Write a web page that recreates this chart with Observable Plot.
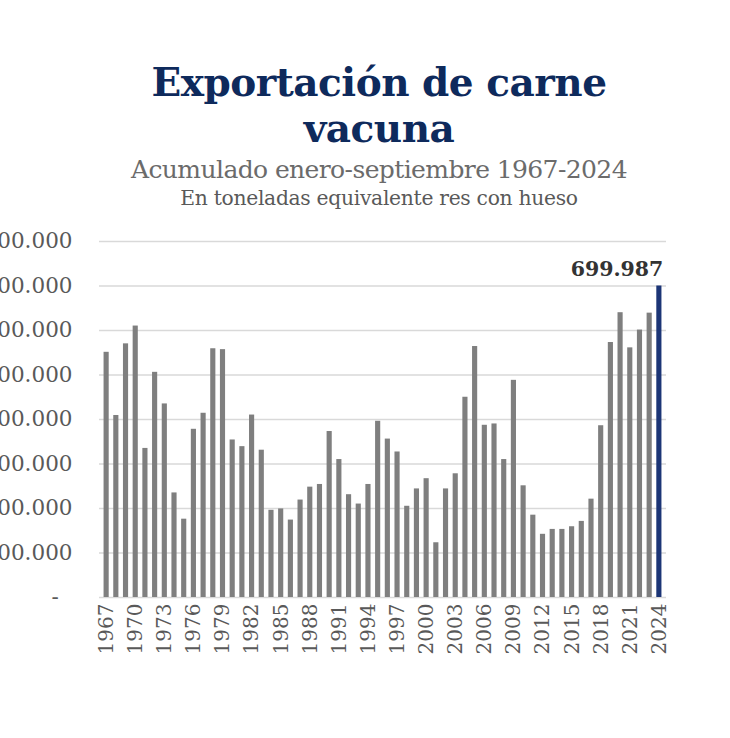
<!DOCTYPE html>
<html>
<head>
<meta charset="utf-8">
<script src="https://cdn.jsdelivr.net/npm/d3@7"></script>
<script src="https://cdn.jsdelivr.net/npm/@observablehq/plot@0.6"></script>
<style>
  html, body { margin: 0; padding: 0; background: #fff; }
  body { width: 730px; height: 738px; overflow: hidden; position: relative; }
  #head { position: absolute; left: 14px; top: 0; width: 730px; text-align: center; }
  #title { position: absolute; left: 0; width: 730px; top: 59px; font-family: "DejaVu Serif", serif; font-weight: bold; font-size: 39px; line-height: 46px; color: #0e2a5c; letter-spacing: -0.5px; }
  #sub1 { position: absolute; left: 0; width: 730px; top: 155px; font-family: "DejaVu Serif", serif; font-size: 25px; line-height: 30px; color: #6b6b6b; letter-spacing: -0.6px; }
  #sub2 { position: absolute; left: 0; width: 730px; top: 186px; font-family: "DejaVu Serif", serif; font-size: 20.3px; line-height: 24px; color: #595959; letter-spacing: -0.3px; }
  #chart { position: absolute; left: 0; top: 225px; }
</style>
</head>
<body>
<div id="head">
  <div id="title">Exportación de carne<br>vacuna</div>
  <div id="sub1">Acumulado enero-septiembre 1967-2024</div>
  <div id="sub2">En toneladas equivalente res con hueso</div>
</div>
<div id="chart"></div>
<script>
const years = d3.range(1967, 2025);
const tons = [
  551000, 409000, 570000, 610000, 335000, 506000, 435000, 235000, 176000, 378000,
  414000, 559000, 557000, 354000, 339000, 410000, 331000, 196000, 199000, 174000,
  219000, 248000, 254000, 373000, 310000, 231000, 210000, 254000, 396000, 356000,
  327000, 205000, 244000, 267000, 123000, 244000, 278000, 450000, 564000, 387000,
  390000, 310000, 488000, 251000, 185000, 142000, 153000, 153000, 159000, 171000,
  221000, 386000, 573000, 640000, 561000, 601000, 639000, 699987
];
const yTicks = [0, 100000, 200000, 300000, 400000, 500000, 600000, 700000, 800000];
const xTickYears = years.filter((y, i) => i % 3 === 0);
const highlightYear = 2024;
const highlightLabel = "699.987";

const data = years.map((y, i) => ({year: y, value: tons[i]}));
const fmt = d => d === 0 ? "-\u2007" : d3.format(",")(d).replace(/,/g, ".");

const chart = Plot.plot({
  width: 730,
  height: 442,
  marginLeft: 99,
  marginRight: 64,
  marginTop: 16,
  marginBottom: 70,
  style: {fontFamily: "DejaVu Serif, serif", overflow: "visible"},
  x: {type: "band", domain: years, padding: 0.47, label: null},
  y: {domain: [0, 800000], label: null},
  marks: [
    Plot.gridY(yTicks, {stroke: "#d9d9d9", strokeOpacity: 1, strokeWidth: 1.3}),
    Plot.barY(data, {x: "year", y: "value", fill: d => d.year === highlightYear ? "#1c3576" : "#7f7f7f"}),
    Plot.axisY(yTicks, {tickSize: 0, tickPadding: 27, tickFormat: fmt, fontSize: 21.5, fill: "#595959", label: null}),
    Plot.axisX(xTickYears, {tickSize: 0, tickPadding: 6, tickRotate: -90, tickFormat: d => String(d), fontSize: 20, fill: "#595959", label: null}),
    Plot.text(data.filter(d => d.year === highlightYear), {x: "year", y: "value", text: () => highlightLabel, dy: -17, dx: 4, textAnchor: "end", fontWeight: "bold", fontSize: 20.5, fill: "#333333"})
  ]
});
document.getElementById("chart").appendChild(chart);
</script>
</body>
</html>
